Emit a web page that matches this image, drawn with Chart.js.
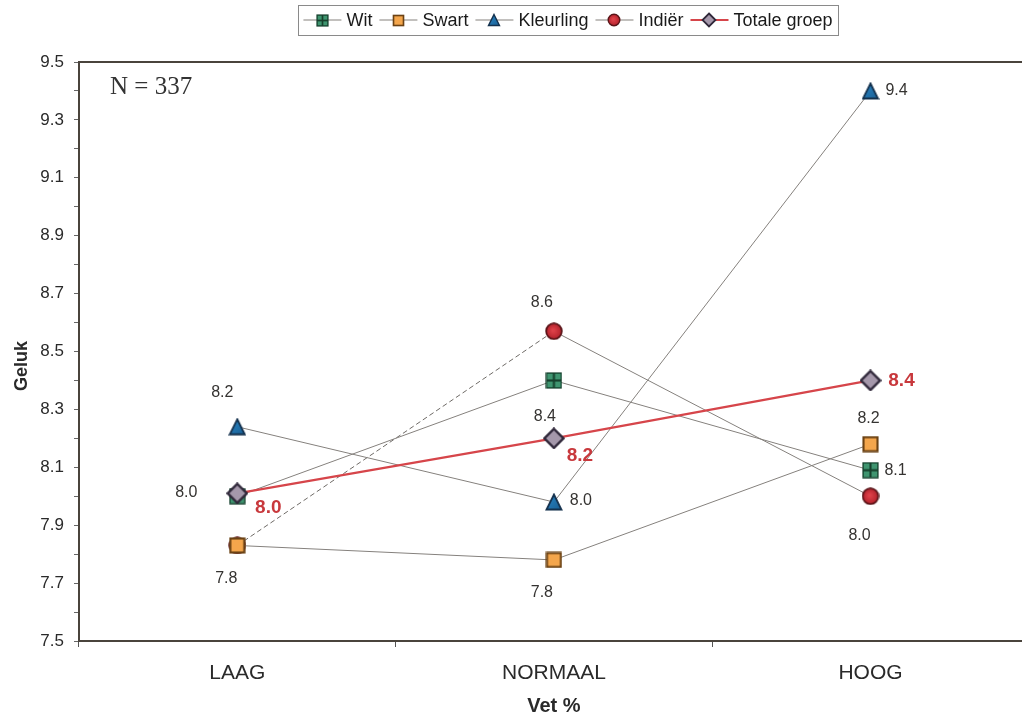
<!DOCTYPE html>
<html><head><meta charset="utf-8">
<script src="https://cdn.jsdelivr.net/npm/chart.js@4.4.1/dist/chart.umd.min.js"></script>
<style>
html,body{margin:0;padding:0;background:#fff;overflow:hidden;}
#wrap{position:absolute;left:0;top:0;width:1040px;height:718px;}
</style>
</head><body>
<div id="wrap"><canvas id="c" width="1040" height="718" style="width:1040px;height:718px"></canvas></div>
<script>
// ---- data ----
const categories = ['LAAG', 'NORMAAL', 'HOOG'];
const wit = [8.00, 8.40, 8.09];
const swart = [7.83, 7.78, 8.18];
const kleurling = [8.24, 7.98, 9.40];
const indier = [7.83, 8.57, 8.00];
const totaleGroep = [8.01, 8.20, 8.40];
const seriesNames = ['Wit', 'Swart', 'Kleurling', 'Indiër', 'Totale groep'];
const yMin = 7.5, yMax = 9.5, yStep = 0.1;
const xTitle = 'Vet %', yTitle = 'Geluk', noteText = 'N = 337';

// ---- label placement (pixel offsets from each point) ----
const labelOffsets = {
  wit: [[-51, -4], [-9, 36], [25, 0]],
  swart: [[-11, 33], [-12, 33], [-2, -26]],
  kleurling: [[-15, -34], [27, -1], [26, 0]],
  indier: [null, [-12, -29], [-11, 39]],
  totaal: [[31, 14], [26, 17], [31, 0]]
};

const SANS = "'Liberation Sans', Arial, sans-serif";

// ---- marker images ----
function mk(w, h, draw) {
  const c = document.createElement('canvas');
  c.width = w; c.height = h;
  draw(c.getContext('2d'), w, h);
  return c;
}
function witMarker(s) {
  return mk(s, s, (g, w, h) => {
    g.fillStyle = '#2f7d5a'; g.fillRect(1, 1, w - 2, h - 2);
    g.fillStyle = '#3f9570';
    const m = w / 2;
    g.fillRect(2, 2, m - 3, m - 3); g.fillRect(m + 1, 2, m - 3, m - 3);
    g.fillRect(2, m + 1, m - 3, m - 3); g.fillRect(m + 1, m + 1, m - 3, m - 3);
    g.strokeStyle = '#17402d'; g.lineWidth = Math.max(1.2, s / 9);
    g.beginPath(); g.moveTo(m, 1); g.lineTo(m, h - 1); g.moveTo(1, m); g.lineTo(w - 1, m); g.stroke();
    g.lineWidth = 1.2; g.strokeRect(1, 1, w - 2, h - 2);
  });
}
function swartMarker(s) {
  return mk(s, s, (g, w, h) => {
    g.fillStyle = '#f4a64c'; g.fillRect(1, 1, w - 2, h - 2);
    g.strokeStyle = '#6b4214'; g.lineWidth = Math.max(1.2, s / 8);
    g.strokeRect(1.5, 1.5, w - 3, h - 3);
  });
}
function kleurMarker(s) {
  return mk(s, s, (g, w, h) => {
    const gr = g.createLinearGradient(0, 0, w, h);
    gr.addColorStop(0, '#2b8ccc'); gr.addColorStop(1, '#185a8e');
    g.fillStyle = gr;
    g.beginPath(); g.moveTo(w / 2, 1.5); g.lineTo(w - 1.5, h - 1.5); g.lineTo(1.5, h - 1.5); g.closePath();
    g.fill();
    g.strokeStyle = '#13304d'; g.lineWidth = Math.max(1.2, s / 10); g.lineJoin = 'miter'; g.stroke();
  });
}
function indierMarker(s) {
  return mk(s, s, (g, w, h) => {
    const r = w / 2 - 1.2;
    const gr = g.createRadialGradient(w * 0.45, h * 0.45, 1, w / 2, h / 2, r);
    gr.addColorStop(0, '#dd4048'); gr.addColorStop(1, '#b3222c');
    g.fillStyle = gr;
    g.beginPath(); g.arc(w / 2, h / 2, r, 0, Math.PI * 2); g.fill();
    g.strokeStyle = '#5a1418'; g.lineWidth = Math.max(1.2, s / 10); g.stroke();
  });
}
function totaalMarker(s) {
  return mk(s, s, (g, w, h) => {
    const m = w / 2, e = 1.5;
    g.fillStyle = '#a598ab';
    g.beginPath(); g.moveTo(m, e); g.lineTo(w - e, m); g.lineTo(m, h - e); g.lineTo(e, m); g.closePath();
    g.fill();
    g.strokeStyle = '#30283a'; g.lineWidth = Math.max(1.3, s / 9); g.stroke();
  });
}

const styles = [
  { key: 'wit', data: wit, marker: witMarker(17), legendMarker: witMarker(13), line: '#85817d', width: 1, order: 2 },
  { key: 'swart', data: swart, marker: swartMarker(17), legendMarker: swartMarker(13), line: '#85817d', width: 1, order: 1 },
  { key: 'kleurling', data: kleurling, marker: kleurMarker(18), legendMarker: kleurMarker(14), line: '#85817d', width: 1, order: 3 },
  { key: 'indier', data: indier, marker: indierMarker(18), legendMarker: indierMarker(14), line: '#85817d', width: 1, order: 4 },
  { key: 'totaal', data: totaleGroep, marker: totaalMarker(22), legendMarker: totaalMarker(16), line: '#d6454a', width: 2.2, order: 0 }
];

const datasets = styles.map((s, i) => ({
  label: seriesNames[i],
  data: s.data,
  borderColor: s.line,
  backgroundColor: s.line,
  borderWidth: s.width,
  pointStyle: s.marker,
  pointRadius: 9,
  pointHoverRadius: 9,
  tension: 0,
  fill: false,
  order: s.order,
  legendMarker: s.legendMarker,
  labelOffsets: labelOffsets[s.key],
  isTotal: s.key === 'totaal',
  segment: s.key === 'indier' ? {
    borderDash: ctx => ctx.p0DataIndex === 0 ? [5, 3] : undefined,
    borderColor: ctx => ctx.p0DataIndex === 0 ? '#6e6a66' : undefined
  } : undefined
}));

const extras = {
  id: 'extras',
  afterDatasetsDraw(chart) {
    const { ctx, chartArea } = chart;
    // top border
    ctx.save();
    ctx.strokeStyle = '#4a443c'; ctx.lineWidth = 2;
    ctx.beginPath(); ctx.moveTo(chartArea.left - 1, chartArea.top); ctx.lineTo(chartArea.right, chartArea.top); ctx.stroke();
    // data labels
    chart.data.datasets.forEach((ds, i) => {
      const meta = chart.getDatasetMeta(i);
      meta.data.forEach((el, j) => {
        const off = ds.labelOffsets[j];
        if (!off) return;
        ctx.font = ds.isTotal ? "bold 19px " + SANS : "16px " + SANS;
        ctx.fillStyle = ds.isTotal ? '#c8383c' : '#353331';
        ctx.textAlign = 'center'; ctx.textBaseline = 'middle';
        ctx.fillText(ds.data[j].toFixed(1), el.x + off[0], el.y + off[1]);
      });
    });
    // y axis title
    ctx.save();
    ctx.translate(22, 366);
    ctx.rotate(-Math.PI / 2);
    ctx.font = "bold 18px " + SANS;
    ctx.fillStyle = '#2a2a2a';
    ctx.textAlign = 'center'; ctx.textBaseline = 'middle';
    ctx.fillText(yTitle, 0, 0);
    ctx.restore();
    // note
    ctx.font = "25px 'Liberation Serif', 'Times New Roman', serif";
    ctx.fillStyle = '#333';
    ctx.textAlign = 'left'; ctx.textBaseline = 'alphabetic';
    ctx.fillText(noteText, 110, 94);
    // legend
    const bx = 298, by = 5, bw = 540, bh = 30;
    ctx.fillStyle = '#fff'; ctx.fillRect(bx, by, bw, bh);
    ctx.strokeStyle = '#8a8a8a'; ctx.lineWidth = 1;
    ctx.strokeRect(bx + 0.5, by + 0.5, bw, bh);
    ctx.font = "18px " + SANS;
    const cy = by + bh / 2;
    const lineLen = 38, gap1 = 5, gap2 = 7;
    let total = 0;
    const widths = chart.data.datasets.map(ds => ctx.measureText(ds.label).width);
    widths.forEach(w => total += lineLen + gap1 + w);
    total += gap2 * (widths.length - 1);
    let x = bx + (bw - total) / 2;
    chart.data.datasets.forEach((ds, i) => {
      ctx.strokeStyle = ds.isTotal ? '#d6454a' : '#85817d';
      ctx.lineWidth = ds.isTotal ? 2 : 1;
      ctx.beginPath(); ctx.moveTo(x, cy); ctx.lineTo(x + lineLen, cy); ctx.stroke();
      const m = ds.legendMarker;
      ctx.drawImage(m, Math.round(x + lineLen / 2 - m.width / 2), Math.round(cy - m.height / 2));
      ctx.fillStyle = '#1a1a1a';
      ctx.textAlign = 'left'; ctx.textBaseline = 'middle';
      ctx.fillText(ds.label, x + lineLen + gap1, cy + 1);
      x += lineLen + gap1 + widths[i] + gap2;
    });
    ctx.restore();
  }
};

new Chart(document.getElementById('c'), {
  type: 'line',
  data: { labels: categories, datasets },
  options: {
    responsive: false,
    animation: false,
    devicePixelRatio: 1,
    layout: { padding: { left: 2, top: 62, right: 3, bottom: 0 } },
    plugins: { legend: { display: false }, tooltip: { enabled: false } },
    scales: {
      x: {
        type: 'category',
        offset: true,
        afterFit: s => { s.height = 77; },
        grid: { display: true, drawOnChartArea: false, drawTicks: true, tickLength: 6, offset: true, color: '#555' },
        border: { display: true, color: '#4a443c', width: 2 },
        ticks: { color: '#2a2a2a', font: { family: SANS, size: 21 }, padding: 14, maxRotation: 0 },
        title: { display: true, text: xTitle, color: '#2a2a2a', font: { family: SANS, size: 20, weight: 'bold' }, padding: { top: 0, bottom: 0 } }
      },
      y: {
        min: yMin, max: yMax,
        afterFit: s => { s.width = 77; },
        afterBuildTicks: s => {
          const t = [];
          for (let k = 0; k <= Math.round((yMax - yMin) / yStep); k++) t.push({ value: +(yMin + k * yStep).toFixed(1) });
          s.ticks = t;
        },
        grid: { display: true, drawOnChartArea: false, drawTicks: true, tickLength: 5, color: '#666' },
        border: { display: true, color: '#4a443c', width: 2 },
        ticks: {
          color: '#2a2a2a', font: { family: SANS, size: 17 }, padding: 10,
          callback: v => (Math.round(v * 10) % 2 === 1 ? v.toFixed(1) : '')
        },
        title: { display: false }
      }
    }
  },
  plugins: [extras]
});
</script>
</body></html>
